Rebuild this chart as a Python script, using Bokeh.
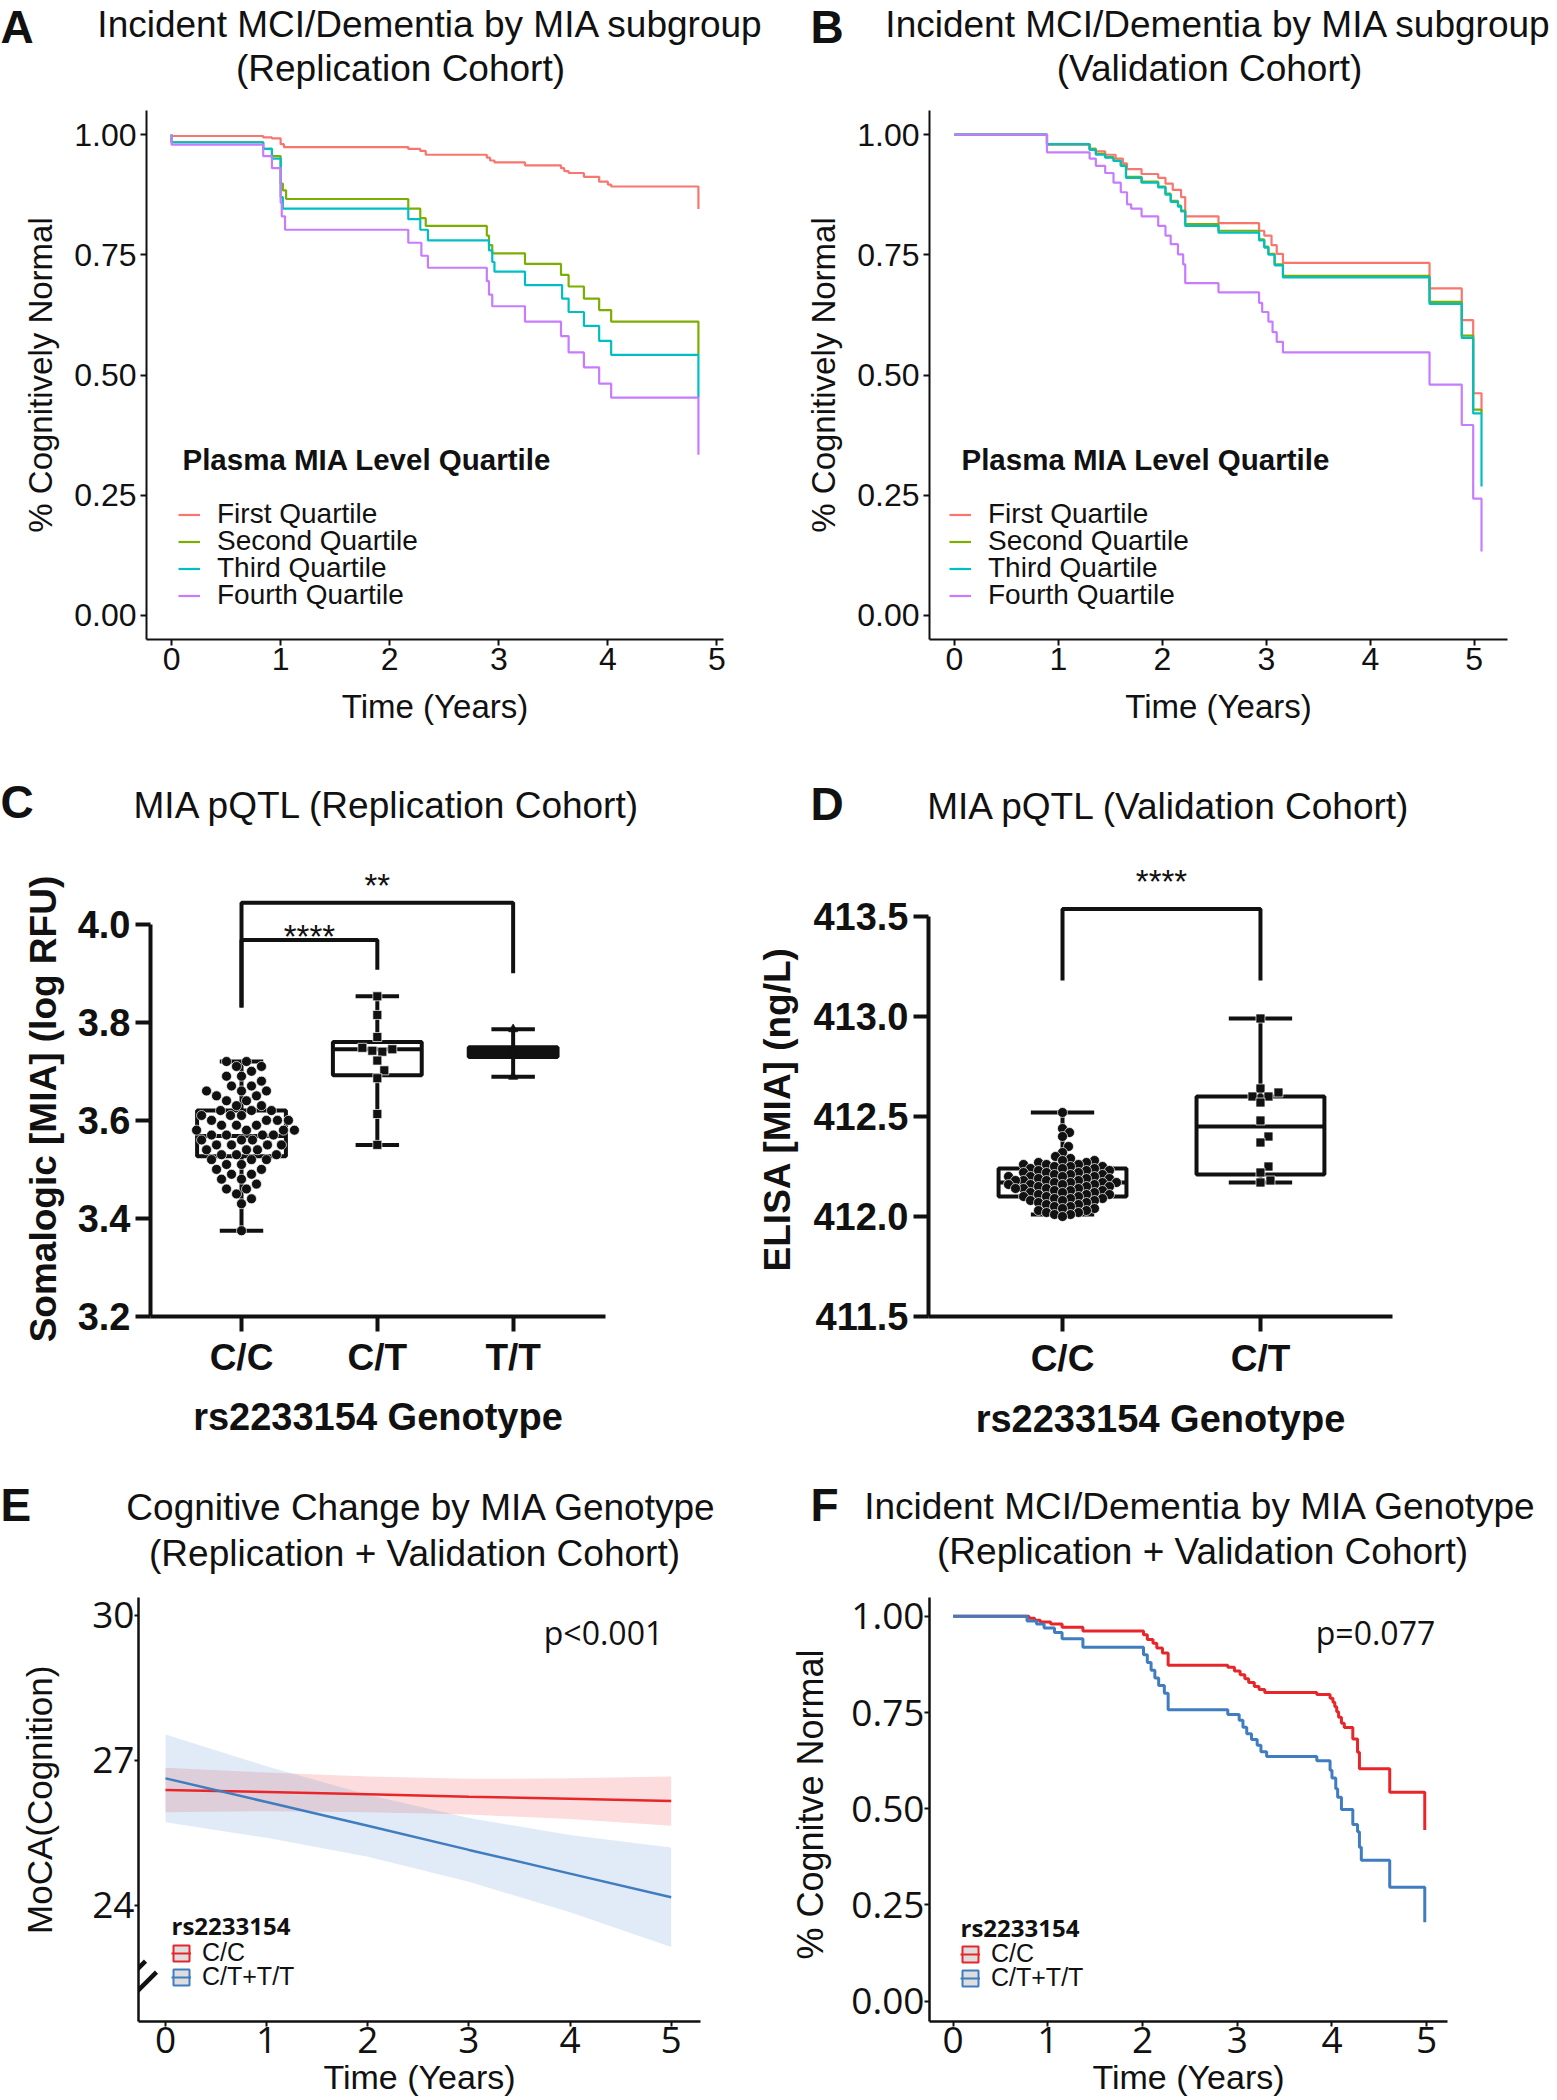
import numpy as np
from bokeh.plotting import figure
from bokeh.models import Label, Legend, LegendItem, FixedTicker, NumeralTickFormatter
from bokeh.layouts import column, row
from bokeh.embed import file_html
from bokeh.resources import INLINE
from bokeh.core.properties import value

# ======================= DATA =======================
quartiles = ["First Quartile", "Second Quartile", "Third Quartile", "Fourth Quartile"]
quartile_colors = ["#F8766D", "#7CAE00", "#00BFC4", "#C77CFF"]
years = [0, 1, 2, 3, 4, 5]
surv_ticks = [0.0, 0.25, 0.5, 0.75, 1.0]

# Panel A - Replication cohort KM by MIA quartile
a_q1_t = [0, 0.84, 0.92, 1.0, 1.03, 2.17, 2.28, 2.33, 2.89, 2.92, 2.96, 3.24, 3.57, 3.60, 3.64, 3.78, 3.92, 4.00, 4.03, 4.83]
a_q1_s = [0.997, 0.994, 0.992, 0.980, 0.974, 0.970, 0.966, 0.958, 0.952, 0.946, 0.942, 0.936, 0.930, 0.924, 0.920, 0.912, 0.902, 0.896, 0.892, 0.845]
a_q2_t = [0, 0, 0.84, 0.92, 1.0, 1.02, 1.05, 2.17, 2.28, 2.33, 2.89, 2.91, 2.94, 3.24, 3.57, 3.64, 3.78, 3.92, 4.03, 4.83]
a_q2_s = [1.0, 0.984, 0.970, 0.955, 0.898, 0.884, 0.866, 0.846, 0.826, 0.810, 0.790, 0.770, 0.753, 0.731, 0.708, 0.684, 0.659, 0.635, 0.611, 0.542]
a_q3_t = [0, 0, 0.84, 0.92, 1.0, 1.02, 2.17, 2.28, 2.35, 2.91, 2.94, 2.96, 3.24, 3.58, 3.64, 3.78, 3.92, 4.03, 4.83]
a_q3_s = [1.0, 0.984, 0.970, 0.950, 0.870, 0.846, 0.824, 0.802, 0.780, 0.759, 0.735, 0.715, 0.687, 0.659, 0.631, 0.602, 0.571, 0.542, 0.453]
a_q4_t = [0, 0, 0.84, 0.92, 1.0, 1.01, 1.04, 2.17, 2.29, 2.35, 2.89, 2.91, 2.94, 3.24, 3.57, 3.64, 3.78, 3.92, 4.03, 4.83]
a_q4_s = [1.0, 0.979, 0.955, 0.930, 0.858, 0.830, 0.802, 0.775, 0.748, 0.723, 0.695, 0.667, 0.643, 0.611, 0.581, 0.547, 0.516, 0.482, 0.453, 0.334]

# Panel B - Validation cohort KM by MIA quartile
b_q1_t = [0, 0.89, 1.30, 1.36, 1.45, 1.55, 1.62, 1.66, 1.80, 1.96, 2.03, 2.10, 2.18, 2.22, 2.54, 2.93, 2.98, 3.05, 3.10, 3.16, 4.57, 4.88, 4.99, 5.07]
b_q1_s = [1.0, 0.979, 0.970, 0.965, 0.958, 0.950, 0.940, 0.928, 0.918, 0.910, 0.898, 0.885, 0.870, 0.830, 0.816, 0.800, 0.790, 0.770, 0.752, 0.733, 0.680, 0.614, 0.462, 0.424]
b_q2_t = [0, 0.89, 1.30, 1.36, 1.45, 1.53, 1.60, 1.65, 1.80, 1.96, 2.03, 2.08, 2.15, 2.18, 2.22, 2.54, 2.93, 2.98, 3.02, 3.08, 3.16, 4.57, 4.88, 4.99, 5.07]
b_q2_s = [1.0, 0.980, 0.970, 0.960, 0.953, 0.946, 0.936, 0.912, 0.902, 0.892, 0.877, 0.862, 0.852, 0.842, 0.814, 0.800, 0.782, 0.767, 0.752, 0.730, 0.706, 0.652, 0.582, 0.428, 0.420]
b_q3_t = [0, 0.89, 1.30, 1.36, 1.45, 1.53, 1.60, 1.65, 1.80, 1.96, 2.03, 2.08, 2.15, 2.18, 2.22, 2.54, 2.93, 2.98, 3.02, 3.08, 3.16, 4.57, 4.88, 4.99, 5.07]
b_q3_s = [1.0, 0.980, 0.968, 0.958, 0.952, 0.945, 0.935, 0.910, 0.900, 0.890, 0.875, 0.860, 0.850, 0.840, 0.810, 0.796, 0.780, 0.765, 0.750, 0.728, 0.703, 0.648, 0.577, 0.420, 0.268]
b_q4_t = [0, 0.89, 1.30, 1.36, 1.45, 1.53, 1.60, 1.66, 1.70, 1.80, 1.96, 2.03, 2.08, 2.15, 2.20, 2.22, 2.54, 2.93, 2.96, 3.02, 3.06, 3.10, 3.16, 4.57, 4.88, 4.99, 5.07]
b_q4_s = [1.0, 0.963, 0.950, 0.935, 0.920, 0.900, 0.880, 0.855, 0.846, 0.830, 0.810, 0.790, 0.772, 0.751, 0.730, 0.691, 0.672, 0.650, 0.631, 0.611, 0.589, 0.569, 0.547, 0.480, 0.396, 0.243, 0.133]

# Panel C - Somalogic MIA by genotype (replication)
c_genotypes = ["C/C", "C/T", "T/T"]
c_cc = [3.72, 3.72, 3.71, 3.71, 3.70, 3.69, 3.69, 3.68, 3.67, 3.67, 3.66, 3.66, 3.66, 3.65, 3.65,
        3.64, 3.64, 3.63, 3.63, 3.62, 3.62, 3.62, 3.61, 3.61, 3.61, 3.60, 3.60, 3.60, 3.60, 3.59,
        3.59, 3.59, 3.58, 3.58, 3.58, 3.58, 3.57, 3.57, 3.57, 3.57, 3.56, 3.56, 3.56, 3.55, 3.55,
        3.55, 3.55, 3.54, 3.54, 3.54, 3.53, 3.53, 3.53, 3.52, 3.52, 3.52, 3.51, 3.51, 3.50, 3.50,
        3.49, 3.49, 3.48, 3.48, 3.47, 3.46, 3.46, 3.45, 3.44, 3.43, 3.375]
c_ct = [3.853, 3.815, 3.770, 3.748, 3.745, 3.742, 3.740, 3.722, 3.702, 3.686, 3.613, 3.550]
c_tt = [3.786, 3.740, 3.689]
c_wlo = [3.375, 3.550, 3.689]
c_q1 = [3.527, 3.692, 3.729]
c_med = [3.568, 3.745, 3.740]
c_q3 = [3.620, 3.760, 3.749]
c_whi = [3.720, 3.853, 3.786]
c_sig_left = [0, 0]
c_sig_right = [1, 2]
c_sig_level = [3.968, 4.044]
c_sig_left_base = [3.830, 3.830]
c_sig_right_base = [3.907, 3.900]
c_sig_text = ["****", "**"]
c_sig_text_y = [3.976, 4.079]

# Panel D - ELISA MIA by genotype (validation)
d_genotypes = ["C/C", "C/T"]
d_cc = [412.52, 412.44, 412.42, 412.40, 412.35, 412.32, 412.30, 412.29, 412.28, 412.28, 412.27, 412.27,
        412.26, 412.26, 412.26, 412.25, 412.25, 412.25, 412.24, 412.24, 412.24, 412.23, 412.23, 412.23,
        412.22, 412.22, 412.22, 412.21, 412.21, 412.21, 412.20, 412.20, 412.20, 412.20, 412.19, 412.19,
        412.19, 412.18, 412.18, 412.18, 412.18, 412.17, 412.17, 412.17, 412.17, 412.16, 412.16, 412.16,
        412.16, 412.15, 412.15, 412.15, 412.14, 412.14, 412.14, 412.14, 412.13, 412.13, 412.13, 412.12,
        412.12, 412.12, 412.11, 412.11, 412.11, 412.10, 412.10, 412.10, 412.09, 412.09, 412.09, 412.08,
        412.08, 412.08, 412.07, 412.07, 412.06, 412.06, 412.05, 412.05, 412.04, 412.04, 412.03, 412.03,
        412.02, 412.02, 412.01, 412.01, 412.00]
d_ct = [412.99, 412.64, 412.62, 412.60, 412.60, 412.57, 412.48, 412.40, 412.37, 412.25, 412.22, 412.18, 412.17]
d_wlo = [412.01, 412.17]
d_q1 = [412.10, 412.21]
d_med = [412.17, 412.45]
d_q3 = [412.24, 412.60]
d_whi = [412.52, 412.99]
d_sig_level = [413.537]
d_sig_base = [413.18]
d_sig_text = ["****"]
d_sig_text_y = [413.675]

# Panel E - MoCA trajectories (fitted lines with 95% CI)
e_time = [0, 1, 2, 3, 4, 5]
e_cc_fit = [26.39, 26.35, 26.30, 26.25, 26.21, 26.16]
e_cc_lo = [25.93, 25.95, 25.93, 25.88, 25.79, 25.65]
e_cc_hi = [26.85, 26.75, 26.67, 26.62, 26.63, 26.67]
e_ct_fit = [26.63, 26.14, 25.65, 25.15, 24.66, 24.17]
e_ct_lo = [25.72, 25.40, 25.01, 24.49, 23.86, 23.14]
e_ct_hi = [27.54, 26.88, 26.29, 25.81, 25.46, 25.20]
e_ticks = [24, 27, 30]
geno_groups = ["C/C", "C/T+T/T"]
geno_colors = ["#E8262A", "#3F7DC0"]

# Panel F - KM by genotype (combined)
f_cc_t = [0, 0.80, 0.86, 0.92, 1.03, 1.15, 1.37, 2.01, 2.05, 2.11, 2.15, 2.21, 2.27, 2.90, 2.97, 3.03, 3.08,
          3.12, 3.18, 3.23, 3.29, 3.84, 3.98, 4.01, 4.03, 4.05, 4.07, 4.10, 4.13, 4.22, 4.27, 4.29, 4.61, 4.98]
f_cc_s = [1.0, 0.995, 0.99, 0.985, 0.980, 0.972, 0.962, 0.952, 0.940, 0.930, 0.918, 0.905, 0.873, 0.868, 0.858,
          0.848, 0.838, 0.828, 0.818, 0.810, 0.802, 0.797, 0.787, 0.777, 0.765, 0.752, 0.738, 0.722, 0.711,
          0.681, 0.647, 0.604, 0.543, 0.445]
f_ct_t = [0, 0.78, 0.88, 0.96, 1.07, 1.15, 1.37, 2.01, 2.05, 2.09, 2.13, 2.17, 2.23, 2.27, 2.90, 3.02, 3.06,
          3.10, 3.15, 3.21, 3.25, 3.31, 3.84, 3.98, 4.0, 4.04, 4.06, 4.10, 4.22, 4.27, 4.29, 4.31, 4.61, 4.98]
f_ct_s = [1.0, 0.988, 0.980, 0.970, 0.958, 0.942, 0.920, 0.900, 0.880, 0.860, 0.840, 0.820, 0.800, 0.757, 0.745,
          0.730, 0.712, 0.695, 0.680, 0.665, 0.648, 0.636, 0.625, 0.600, 0.580, 0.552, 0.530, 0.498, 0.459,
          0.440, 0.400, 0.366, 0.296, 0.205]

# ======================= HELPERS =======================
ARIAL = "Liberation Sans"
OPEN = "Open Sans"
INK = "#111111"
PAGE_W = 1556
NB = "\u00a0"   # non-breaking space used to nudge an axis title along its axis


def make_fig(ox, oy, w, h, L, R, T, B, xr, yr):
    p = figure(width=w, height=h, x_range=xr, y_range=yr, output_backend="svg",
               toolbar_location=None, min_border_left=L - ox, min_border_right=ox + w - R,
               min_border_top=T - oy, min_border_bottom=oy + h - B)
    p.xgrid.visible = False
    p.ygrid.visible = False
    p.outline_line_color = None
    p.background_fill_color = "white"
    p.border_fill_color = "white"
    return p


def text_canvas(oy, h):
    # a blank strip used only for panel letters and titles (coordinates = page pixels)
    p = figure(width=PAGE_W, height=h, x_range=(0, PAGE_W), y_range=(oy + h, oy),
               output_backend="svg", toolbar_location=None, min_border=0,
               x_axis_location=None, y_axis_location=None)
    p.xgrid.visible = False
    p.ygrid.visible = False
    p.outline_line_color = None
    p.border_fill_color = "white"
    return p


def put(p, x, y, text, size, font=ARIAL, style="normal", align="center", baseline="middle"):
    p.text(x=[x], y=[y], text=[text], text_font=value(font), text_font_size=f"{size}px",
           text_font_style=style, text_align=align, text_baseline=baseline, text_color=INK)


def lab(p, L, B, x, y, text, size, font=ARIAL, style="normal", align="center",
        baseline="middle", angle=0):
    p.add_layout(Label(x=x - L, y=B - y, x_units="screen", y_units="screen", text=text,
                       text_font=font, text_font_size=f"{size}px", text_font_style=style,
                       text_align=align, text_baseline=baseline, angle=angle, text_color=INK))


def style_axis(ax, font, size, style, line_w, tick_out, tick_w, standoff, title=None,
               tfont=ARIAL, tsize=30, tstyle="normal", tstandoff=10):
    ax.axis_line_width = line_w
    ax.axis_line_color = INK
    ax.major_tick_line_width = tick_w
    ax.major_tick_line_color = INK
    ax.major_tick_out = tick_out
    ax.major_tick_in = 0
    ax.minor_tick_line_color = None
    ax.major_label_text_font = font
    ax.major_label_text_font_size = f"{size}px"
    ax.major_label_text_font_style = style
    ax.major_label_text_color = INK
    ax.major_label_standoff = standoff
    if title is not None:
        ax.axis_label = title
        ax.axis_label_text_font = tfont
        ax.axis_label_text_font_size = f"{tsize}px"
        ax.axis_label_text_font_style = tstyle
        ax.axis_label_text_color = INK
        ax.axis_label_standoff = tstandoff


def swarm(vals, ppx, ppy, diam):
    order = sorted(range(len(vals)), key=lambda i: vals[i])
    placed = []
    out = [0.0] * len(vals)
    for i in order:
        yv = vals[i] * ppy
        near = [(px, py) for px, py in placed if abs(py - yv) < diam]
        k = 0
        found = None
        while found is None:
            cands = [0.0] if k == 0 else [float(k), -float(k)]
            for c in cands:
                if all((c - px) ** 2 + (yv - py) ** 2 >= diam * diam for px, py in near):
                    found = c
                    break
            k += 1
        placed.append((found, yv))
        out[i] = found / ppx
    return out


def box_plot(p, xs, wlo, q1, med, q3, whi, hb, hc, lw=4, solid=None):
    solid = solid or [0] * len(xs)
    p.quad(left=[x - hb for x in xs], right=[x + hb for x in xs], bottom=q1, top=q3,
           fill_color=INK, fill_alpha=solid, line_color=INK, line_width=lw)
    p.segment(x0=[x - hb for x in xs], y0=med, x1=[x + hb for x in xs], y1=med, line_color=INK, line_width=lw)
    p.segment(x0=xs, y0=q3, x1=xs, y1=whi, line_color=INK, line_width=lw)
    p.segment(x0=xs, y0=wlo, x1=xs, y1=q1, line_color=INK, line_width=lw)
    p.segment(x0=[x - hc for x in xs], y0=whi, x1=[x + hc for x in xs], y1=whi, line_color=INK, line_width=lw)
    p.segment(x0=[x - hc for x in xs], y0=wlo, x1=[x + hc for x in xs], y1=wlo, line_color=INK, line_width=lw)


def legend_common(**kw):
    base = dict(label_text_color=INK, padding=0, margin=0, spacing=0, border_line_color=None,
                background_fill_alpha=0)
    base.update(kw)
    return base


def km_panel(ox, oy, w, h, L, R, xr, curves_t, curves_s, leg_x, title_x):
    T, B = 110, 639
    p = make_fig(ox, oy, w, h, L, R, T, B, xr, (-0.05, 1.05))
    rs = []
    for t, s, c in zip(curves_t, curves_s, quartile_colors):
        rs.append(p.step(x=t, y=s, mode="after", line_color=c, line_width=2.2))
    p.xaxis.ticker = FixedTicker(ticks=years)
    p.yaxis.ticker = FixedTicker(ticks=surv_ticks)
    p.yaxis.formatter = NumeralTickFormatter(format="0.00")
    style_axis(p.xaxis[0], ARIAL, 32, "normal", 2, 6, 2, 2, "Time (Years)", ARIAL, 33, "normal", 15)
    style_axis(p.yaxis[0], ARIAL, 32, "normal", 2, 6, 2, 4, "% Cognitively Normal", ARIAL, 33, "normal", 12)
    item_centers = [514, 541, 568, 595]
    for q, r, yc in zip(quartiles, rs, item_centers):
        kw = legend_common(label_text_font=ARIAL, label_text_font_size="28px", label_height=27,
                           glyph_height=27, glyph_width=22, label_standoff=17)
        p.add_layout(Legend(items=[LegendItem(label=q, renderers=[r])],
                            location=(leg_x - L, B - (yc + 16)), **kw))
    lab(p, L, B, title_x, 459, "Plasma MIA Level Quartile", 29.5, style="bold", align="left")
    return p


# ======================= TITLE STRIP 1 =======================
t1 = text_canvas(0, 100)
put(t1, 0, 0, "A", 46, style="bold", align="left", baseline="top")
put(t1, 430, 24, "Incident MCI/Dementia by MIA subgroup", 37)
put(t1, 400, 68, "(Replication Cohort)", 37)
put(t1, 810, 0, "B", 46, style="bold", align="left", baseline="top")
put(t1, 1218, 24, "Incident MCI/Dementia by MIA subgroup", 37)
put(t1, 1209, 68, "(Validation Cohort)", 37)

# ======================= PANEL A / B =======================
pa = km_panel(0, 100, 775, 652, 146, 723, (-0.23, 5.06),
              [a_q1_t, a_q2_t, a_q3_t, a_q4_t], [a_q1_s, a_q2_s, a_q3_s, a_q4_s], 178, 182)
pb = km_panel(775, 100, PAGE_W - 775, 652, 929, 1507, (-0.24, 5.32),
              [b_q1_t, b_q2_t, b_q3_t, b_q4_t], [b_q1_s, b_q2_s, b_q3_s, b_q4_s], 949, 961)

# ======================= TITLE STRIP 2 =======================
t2 = text_canvas(752, 78)
put(t2, 0, 801, "C", 46, style="bold", align="left")
put(t2, 387, 805, "MIA pQTL (Replication Cohort)", 37)
put(t2, 810, 803, "D", 46, style="bold", align="left")
put(t2, 1169, 806, "MIA pQTL (Validation Cohort)", 37)

# ======================= PANEL C =======================
R2_Y = 830
pc = make_fig(0, R2_Y, 740, 1462 - R2_Y, 150, 605, 860, 1316, (-0.67, 2.68), (3.2, 4.13))
box_plot(pc, [0, 1, 2], c_wlo, c_q1, c_med, c_q3, c_whi, 0.327, 0.16, solid=[0, 0, 1])
cc_off = swarm(c_cc, 136, 490, 11)
ct_off = swarm(c_ct, 136, 490, 10)
tt_off = swarm(c_tt, 136, 490, 10)
pc.scatter(x=[0 + o for o in cc_off], y=c_cc, marker="circle", size=10, fill_color=INK,
           line_color="white", line_width=0.7)
pc.scatter(x=[1 + o for o in ct_off], y=c_ct, marker="square", size=9, fill_color=INK,
           line_color="white", line_width=0.7)
pc.scatter(x=[2 + o for o in tt_off], y=c_tt, marker="triangle", size=9, fill_color=INK,
           line_color=INK, line_width=0.7)
pc.multi_line(xs=[[l, l, r, r] for l, r in zip(c_sig_left, c_sig_right)],
              ys=[[lb, lv, lv, rb] for lb, lv, rb in zip(c_sig_left_base, c_sig_level, c_sig_right_base)],
              line_color=INK, line_width=4)
pc.text(x=[(l + r) / 2 for l, r in zip(c_sig_left, c_sig_right)], y=c_sig_text_y, text=c_sig_text,
        text_font=value(ARIAL), text_font_size="33px", text_align="center", text_baseline="middle",
        text_color=INK)
pc.xaxis.ticker = FixedTicker(ticks=[0, 1, 2])
pc.xaxis.major_label_overrides = {i: g for i, g in enumerate(c_genotypes)}
pc.yaxis.ticker = FixedTicker(ticks=[3.2, 3.4, 3.6, 3.8, 4.0])
pc.yaxis.formatter = NumeralTickFormatter(format="0.0")
pc.yaxis.bounds = (3.2, 4.0)
style_axis(pc.xaxis[0], ARIAL, 37, "bold", 4, 15, 4, 5, "rs2233154 Genotype", ARIAL, 38, "bold", 15)
style_axis(pc.yaxis[0], ARIAL, 38, "bold", 4, 15, 4, 5, "Somalogic [MIA] (log RFU)" + NB * 4,
           ARIAL, 37, "bold", 11)

# ======================= PANEL D =======================
pdd = make_fig(740, R2_Y, PAGE_W - 740, 1462 - R2_Y, 928, 1392, 860, 1316, (-0.677, 1.667), (411.5, 413.78))
box_plot(pdd, [0, 1], d_wlo, d_q1, d_med, d_q3, d_whi, 0.323, 0.16)
dcc_off = swarm(d_cc, 198, 200, 8)
dct_off = swarm(d_ct, 198, 200, 10)
pdd.scatter(x=[0 + o for o in dcc_off], y=d_cc, marker="circle", size=10, fill_color=INK,
            line_color="white", line_width=0.7)
pdd.scatter(x=[1 + o for o in dct_off], y=d_ct, marker="square", size=9, fill_color=INK,
            line_color="white", line_width=0.7)
pdd.multi_line(xs=[[0, 0, 1, 1]], ys=[[d_sig_base[0], d_sig_level[0], d_sig_level[0], d_sig_base[0]]],
               line_color=INK, line_width=4)
pdd.text(x=[0.5], y=d_sig_text_y, text=d_sig_text, text_font=value(ARIAL), text_font_size="33px",
         text_align="center", text_baseline="middle", text_color=INK)
pdd.xaxis.ticker = FixedTicker(ticks=[0, 1])
pdd.xaxis.major_label_overrides = {i: g for i, g in enumerate(d_genotypes)}
pdd.yaxis.ticker = FixedTicker(ticks=[411.5, 412.0, 412.5, 413.0, 413.5])
pdd.yaxis.formatter = NumeralTickFormatter(format="0.0")
pdd.yaxis.bounds = (411.5, 413.5)
style_axis(pdd.xaxis[0], ARIAL, 37, "bold", 4, 15, 4, 6, "rs2233154 Genotype", ARIAL, 38, "bold", 16)
style_axis(pdd.yaxis[0], ARIAL, 38, "bold", 4, 15, 4, 5, "ELISA [MIA] (ng/L)" + NB * 4,
           ARIAL, 37, "bold", 12)

# ======================= TITLE STRIP 3 =======================
t3 = text_canvas(1462, 118)
put(t3, 0, 1504, "E", 46, style="bold", align="left")
put(t3, 421, 1507, "Cognitive Change by MIA Genotype", 37)
put(t3, 414, 1553, "(Replication + Validation Cohort)", 37)
put(t3, 810, 1504, "F", 46, style="bold", align="left")
put(t3, 1200, 1506, "Incident MCI/Dementia by MIA Genotype", 37)
put(t3, 1202, 1551, "(Replication + Validation Cohort)", 37)


def geno_legends(p, L, B, x_left, centers, title_y):
    for g, c, yc in zip(geno_groups, geno_colors, centers):
        # legend keys: grey box with coloured outline and coloured line (glyphs kept outside the view)
        rq = p.quad(left=[-50], right=[-49], top=[-50], bottom=[-51], fill_color="#DEDEDE",
                    line_color=c, line_width=2)
        rl = p.line(x=[-50, -49], y=[-50, -50], line_color=c, line_width=2)
        p.add_layout(Legend(items=[LegendItem(label=g, renderers=[rq, rl])],
                            location=(x_left - L, B - (yc + 14)),
                            **legend_common(label_text_font=ARIAL, label_text_font_size="25px",
                                            label_height=20, glyph_height=20, glyph_width=20,
                                            label_standoff=11)))
    lab(p, L, B, x_left, title_y, "rs2233154", 24, font=OPEN, style="bold", align="left")


# ======================= PANEL E =======================
E_L, E_B = 138, 2021
pe = make_fig(0, 1580, 770, 518, 138, 700, 1597, 2021, (-0.267, 5.29), (21.60, 30.372))
pe.varea(x=e_time, y1=e_cc_lo, y2=e_cc_hi, fill_color="#EE3B3B", fill_alpha=0.18)
pe.varea(x=e_time, y1=e_ct_lo, y2=e_ct_hi, fill_color="#5B8FD0", fill_alpha=0.18)
pe.line(x=e_time, y=e_cc_fit, line_color=geno_colors[0], line_width=2.5)
pe.line(x=e_time, y=e_ct_fit, line_color=geno_colors[1], line_width=2.5)
geno_legends(pe, E_L, E_B, 171, [1953, 1977], 1925)
pe.xaxis.ticker = FixedTicker(ticks=years)
pe.yaxis.ticker = FixedTicker(ticks=e_ticks)
pe.yaxis.formatter = NumeralTickFormatter(format="0")
style_axis(pe.xaxis[0], OPEN, 37, "normal", 2.5, 5, 2, 0, "Time (Years)", ARIAL, 34, "normal", 2)
style_axis(pe.yaxis[0], OPEN, 37, "normal", 2.5, 4, 2, 0, NB * 2 + "MoCA(Cognition)", ARIAL, 35, "normal", 30)
lab(pe, E_L, E_B, 603, 1632, "p<0.001", 32, font=OPEN)
lab(pe, E_L, E_B, 139, 1976, "=", 62, angle=np.pi / 4)

# ======================= PANEL F =======================
F_L, F_B = 929, 2021
pf = make_fig(770, 1580, PAGE_W - 770, 518, 929, 1447, 1597, 2021, (-0.25, 5.22), (-0.053, 1.049))
for t, s, c in zip([f_cc_t, f_ct_t], [f_cc_s, f_ct_s], geno_colors):
    pf.step(x=t, y=s, mode="after", line_color=c, line_width=3)
geno_legends(pf, F_L, F_B, 960, [1954, 1978], 1927)
pf.xaxis.ticker = FixedTicker(ticks=years)
pf.yaxis.ticker = FixedTicker(ticks=surv_ticks)
pf.yaxis.formatter = NumeralTickFormatter(format="0.00")
style_axis(pf.xaxis[0], OPEN, 37, "normal", 2.5, 5, 2, 0, "Time (Years)", ARIAL, 34, "normal", 2)
style_axis(pf.yaxis[0], OPEN, 37, "normal", 2.5, 5, 2, 0, NB + "% Cognitve Normal", ARIAL, 36, "normal", 17)
lab(pf, F_L, F_B, 1375, 1632, "p=0.077", 32, font=OPEN)

layout = column(t1, row(pa, pb), t2, row(pc, pdd), t3, row(pe, pf))
open("out.html", "w").write(file_html(layout, INLINE))
